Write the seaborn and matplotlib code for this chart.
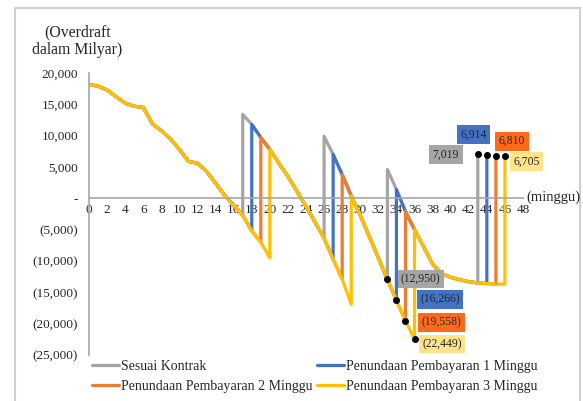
import matplotlib
matplotlib.use("Agg")
import matplotlib.pyplot as plt
from matplotlib.lines import Line2D
from matplotlib.ticker import FuncFormatter, MultipleLocator
import pandas as pd
import seaborn as sns

# minggu pembayaran termin sesuai kontrak
minggu_bayar = [17, 26, 33, 43]

# saldo overdraft setelah pembayaran, minggu 0..46
saldo_dasar = [18200, 17900, 17300, 16200, 15200, 14700, 14500, 11900, 10800, 9500,
               7800, 5900, 5600, 4300, 2400, 500, -1100, 13400, 11800, 9700,
               7800, 5600, 3500, 1100, -1300, -3800, 9900, 7000, 3800, 400,
               -2700, -6100, -9500, 4600, 1400, -2100, -5000, -7700, -10500, -12000,
               -12600, -13000, -13300, 7019, 6914, 6810, 6705]

# saldo bila pembayaran ditunda (mulai minggu bayar, 0..3 minggu)
saldo_tunda = [[-2700, -5200, -7000, -9500],
               [-6400, -9700, -12900, -16900],
               [-12950, -16266, -19558, -22449],
               [-13500, -13600, -13700, -13700]]

nama_seri = ["Sesuai Kontrak", "Penundaan Pembayaran 1 Minggu",
             "Penundaan Pembayaran 2 Minggu", "Penundaan Pembayaran 3 Minggu"]
warna = ["#A5A5A5", "#4472C4", "#ED7D31", "#FFC000"]
warna_label = ["#A5A5A5", "#4472C4", "#FF6A1A", "#FFE38A"]


def bangun_seri(tunda):
    xs, ys = [], []
    for w in range(0, minggu_bayar[-1] + tunda + 1):
        done = False
        for i, p in enumerate(minggu_bayar):
            if p <= w < p + tunda:
                xs.append(w); ys.append(saldo_tunda[i][w - p])
                done = True
                break
            elif w == p + tunda:
                xs += [w, w]
                ys += [saldo_tunda[i][tunda], saldo_dasar[w]]
                done = True
                break
        if not done:
            xs.append(w); ys.append(saldo_dasar[w])
    return xs, ys


frames = []
for d, nama in enumerate(nama_seri):
    xs, ys = bangun_seri(d)
    frames.append(pd.DataFrame({"minggu": xs, "saldo": ys, "seri": nama}))
df = pd.concat(frames, ignore_index=True)

sns.set_theme(style="white")
plt.rcParams['font.family'] = ['Liberation Serif', 'DejaVu Serif']

fig = plt.figure(figsize=(5.83, 4.01), dpi=100)
ax = fig.add_axes([0.1527, 0.1147, 0.7444, 0.7032])

sns.lineplot(data=df, x="minggu", y="saldo", hue="seri", hue_order=nama_seri,
             palette=warna, estimator=None, sort=False, linewidth=2.3, ax=ax, legend=False)

# titik dan label
for d in range(4):
    x1, y1 = minggu_bayar[2] + d, saldo_tunda[2][d]
    x2, y2 = minggu_bayar[3] + d, saldo_dasar[minggu_bayar[3] + d]
    ax.plot([x1, x2], [y1, y2], 'o', color='black', markersize=4, zorder=5)

off_bawah = [(24, 0.5), (31.5, 0.5), (26, -1), (20, -3.5)]
off_atas = [(-23, 0), (-9.5, 14.5), (11.5, 10.5), (15.5, -4)]
for d in range(4):
    x1, y1 = minggu_bayar[2] + d, saldo_tunda[2][d]
    ax.annotate("({:,})".format(-y1), (x1, y1), xytext=off_bawah[d], textcoords='offset points',
                ha='center', va='center', fontsize=8.4, color='#262626',
                bbox=dict(boxstyle='square,pad=0.28', fc=warna_label[d], ec='none'))
    x2, y2 = minggu_bayar[3] + d, saldo_dasar[minggu_bayar[3] + d]
    ax.annotate("{:,}".format(y2), (x2, y2), xytext=off_atas[d], textcoords='offset points',
                ha='center', va='center', fontsize=8.4, color='#262626',
                bbox=dict(boxstyle='square,pad=0.3', fc=warna_label[d], ec='none'))

ax.set_xlim(0, 48)
ax.set_ylim(-25000, 20000)
ax.xaxis.set_major_locator(MultipleLocator(2))
ax.yaxis.set_major_locator(MultipleLocator(5000))


def fmt_y(v, pos):
    if v == 0:
        return "-"
    if v < 0:
        return "({:,.0f})".format(-v)
    return "{:,.0f}".format(v)


ax.yaxis.set_major_formatter(FuncFormatter(fmt_y))
ax.spines['bottom'].set_position(('data', 0))
for s in ['top', 'right']:
    ax.spines[s].set_visible(False)
for s in ['left', 'bottom']:
    ax.spines[s].set_color('#A6A6A6')
    ax.spines[s].set_linewidth(1.2)
ax.tick_params(axis='x', length=0, pad=4, labelsize=9.5, colors='#262626')
ax.tick_params(axis='y', length=0, pad=8, labelsize=9.5, colors='#262626')
ax.set_xlabel("")
ax.set_ylabel("")

fig.text(77.5 / 583, 1 - 41 / 401, "(Overdraft\ndalam Milyar)", ha='center', va='center',
         fontsize=11.3, color='#262626', linespacing=1.15)
fig.text(526 / 583, 1 - 197 / 401, "(minggu)", ha='left', va='center',
         fontsize=10.5, color='#262626')

handles = [Line2D([0], [0], color=c, lw=2.3) for c in warna]
urut = [0, 2, 1, 3]
fig.legend([handles[i] for i in urut], [nama_seri[i] for i in urut], ncol=2,
           loc='upper left', bbox_to_anchor=(85 / 583, 1 - 353 / 401), frameon=False,
           fontsize=10, borderpad=0, handlelength=1.95, handletextpad=0.15,
           columnspacing=0.3, labelspacing=0.5)

# bingkai area grafik
kw = dict(color='#D0D0D0', lw=1.5, transform=fig.transFigure)
fig.add_artist(Line2D([15 / 583, 15 / 583], [0, 1 - 8 / 401], **kw))
fig.add_artist(Line2D([15 / 583, 580 / 583], [1 - 8 / 401, 1 - 8 / 401], **kw))
fig.add_artist(Line2D([580 / 583, 580 / 583], [0, 1 - 8 / 401], **kw))

fig.savefig("out.png", dpi=100)
